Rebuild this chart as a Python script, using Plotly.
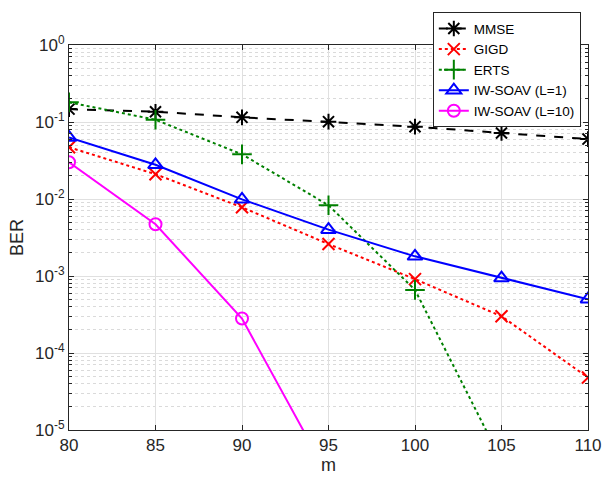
import plotly.graph_objects as go

m = [80, 85, 90, 95, 100, 105, 110]
mmse = [0.147, 0.136, 0.115, 0.101, 0.087, 0.072, 0.060]
gigd = [0.047, 0.021, 0.0078, 0.0026, 0.00091, 0.00030, 4.8e-5]
erts = [0.18, 0.107, 0.038, 0.0083, 0.00066, 4.0e-6]
erts_m = [80, 85, 90, 95, 100, 105]
iw1 = [0.063, 0.0278, 0.0099, 0.0040, 0.0018, 0.00094, 0.0005]
iw10 = [0.030, 0.0047, 0.00028, 2.5e-6]
iw10_m = [80, 85, 90, 95]

ytickvals = [1e-5, 1e-4, 1e-3, 1e-2, 1e-1, 1]
yticktext = ["10<sup>-5</sup>", "10<sup>-4</sup>", "10<sup>-3</sup>",
             "10<sup>-2</sup>", "10<sup>-1</sup>", "10<sup>0</sup>"]
xtickvals = [80, 85, 90, 95, 100, 105, 110]

FONT = "Liberation Sans, Arial, Helvetica"

fig = go.Figure()
fig.add_trace(go.Scatter(x=m, y=mmse, name="MMSE", mode="lines+markers",
                         line=dict(color="black", width=2, dash="dash"),
                         marker=dict(symbol="asterisk-open", size=13,
                                     line=dict(color="black", width=2))))
fig.add_trace(go.Scatter(x=m, y=gigd, name="GIGD", mode="lines+markers",
                         line=dict(color="red", width=2, dash="dot"),
                         marker=dict(symbol="x-thin-open", size=12,
                                     line=dict(color="red", width=2))))
fig.add_trace(go.Scatter(x=erts_m, y=erts, name="ERTS", mode="lines+markers",
                         line=dict(color="#008000", width=2, dash="dot"),
                         marker=dict(symbol="cross-thin-open", size=14,
                                     line=dict(color="#008000", width=2))))
fig.add_trace(go.Scatter(x=m, y=iw1, name="IW-SOAV (L=1)", mode="lines+markers",
                         line=dict(color="blue", width=2),
                         marker=dict(symbol="triangle-up-open", size=13,
                                     line=dict(color="blue", width=2))))
fig.add_trace(go.Scatter(x=iw10_m, y=iw10, name="IW-SOAV (L=10)", mode="lines+markers",
                         line=dict(color="magenta", width=2),
                         marker=dict(symbol="circle-open", size=12,
                                     line=dict(color="magenta", width=2))))

axis_common = dict(showline=True, linecolor="#262626", linewidth=1, mirror="allticks",
                   ticks="inside", tickcolor="#262626", ticklen=5,
                   tickfont=dict(family=FONT, size=17, color="#262626"),
                   gridcolor="#e0e0e0", gridwidth=1, zeroline=False, automargin=False)

fig.update_xaxes(range=[80, 110], tickvals=xtickvals,
                 title=dict(text="m", font=dict(family=FONT, size=18, color="#262626"), standoff=2),
                 **axis_common)
fig.update_yaxes(type="log", range=[-5, 0], tickvals=ytickvals, ticktext=yticktext,
                 title=dict(text="BER", font=dict(family=FONT, size=18, color="#262626"), standoff=6),
                 minor=dict(dtick="D1", ticks="inside", ticklen=3, tickcolor="#262626",
                            showgrid=True, gridcolor="#dadada", griddash="dot", gridwidth=1),
                 **axis_common)

fig.update_layout(
    width=605, height=477,
    margin=dict(l=69, r=17, t=39, b=47),
    paper_bgcolor="white", plot_bgcolor="white",
    showlegend=True,
    legend=dict(x=0.701, y=1.085, xanchor="left", yanchor="top",
                bgcolor="white", bordercolor="#262626", borderwidth=1,
                font=dict(family=FONT, size=13.5, color="black"),
                tracegroupgap=0, itemwidth=30),
)

fig.write_html("out.html")
